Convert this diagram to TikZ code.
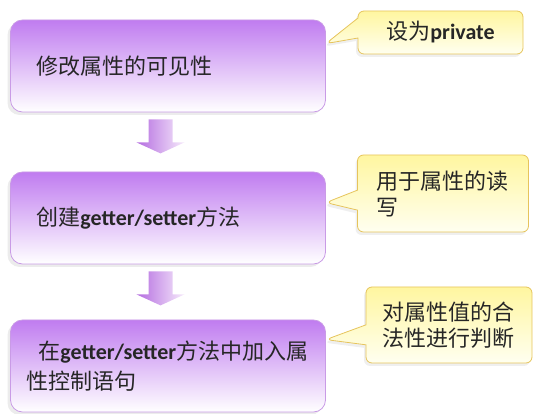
\documentclass[tikz,border=0pt]{standalone}
\usepackage{fontspec}
\setmainfont{Carlito}
\newfontfamily\lat{Carlito}
\newfontfamily\cjk{Noto Sans CJK SC}
\usepackage{tikz}
\usetikzlibrary{calc,shapes.callouts,shadows}
\definecolor{boxtop}{HTML}{C07CF0}
\definecolor{boxline}{HTML}{C99BE6}
\definecolor{notetop}{HTML}{FFF6A0}
\definecolor{notebot}{HTML}{FFFFF0}
\definecolor{noteline}{HTML}{E6C45C}
\definecolor{arrowdark}{HTML}{B46CE0}
\definecolor{arrowlight}{HTML}{F6EAFB}

\begin{document}
\begin{tikzpicture}[x=1pt, y=-1pt,
    stepbox/.style={rectangle, rounded corners=12pt, draw=boxline, line width=0.8pt,
        top color=boxtop, bottom color=white, minimum width=315pt, minimum height=92pt,
        text width=283pt, inner xsep=16pt, align=left, text=black!85,
        font=\cjk\fontsize{22}{30}\selectfont,
        drop shadow={shadow xshift=-3pt, shadow yshift=-3pt, opacity=0.12, fill=black!60}},
    note/.style={rectangle callout, rounded corners=6pt, draw=noteline, line width=0.8pt,
        top color=notetop, bottom color=notebot, callout pointer width=20pt,
        inner sep=0pt, text=black!85, font=\cjk\fontsize{22}{26}\selectfont,
        drop shadow={shadow xshift=-2pt, shadow yshift=-3pt, opacity=0.10, fill=black!60}},
    downarrow/.style={left color=arrowdark, right color=arrowlight}]
    \useasboundingbox (0,0) rectangle (558,414);

    % Steps
    \node[stepbox] (b1) at (168,66) {\hspace*{10pt}修改属性的可见性};
    \node[stepbox] (b2) at (168,218) {\hspace*{10pt}创建{\lat\bfseries getter/setter}方法};
    \node[stepbox] (b3) at (168,366) {\hspace*{12pt}在{\lat\bfseries getter/setter}方法中加入属\\性控制语句};

    % Arrows between steps
    \shade[downarrow] ($(b1.south)+(-19.5,7)$) -- ++(0,23) -- ++(-12,0) -- ++(24,11)
        -- ++(24,-11) -- ++(-12,0) -- ++(0,-23) -- cycle;
    \shade[downarrow] ($(b2.south)+(-19.5,7)$) -- ++(0,23) -- ++(-12,0) -- ++(24,11)
        -- ++(24,-11) -- ++(-12,0) -- ++(0,-23) -- cycle;

    % Notes
    \node[note, minimum width=165pt, minimum height=43pt,
        callout absolute pointer={($(b1.north east)+(0,24)$)}] (n1) at (440.5,32.5)
        {设为{\lat\bfseries private}};
    \node[note, minimum width=171pt, minimum height=77pt, text width=134pt, align=left,
        callout absolute pointer={($(b2.north east)+(0,31)$)}] (n2) at (443,193.5)
        {用于属性的读\\写};
    \node[note, minimum width=166pt, minimum height=76pt, text width=134pt, align=left,
        callout absolute pointer={($(b3.north east)+(0,20)$)}] (n3) at (449,325)
        {对属性值的合\\法性进行判断};
\end{tikzpicture}
\end{document}
